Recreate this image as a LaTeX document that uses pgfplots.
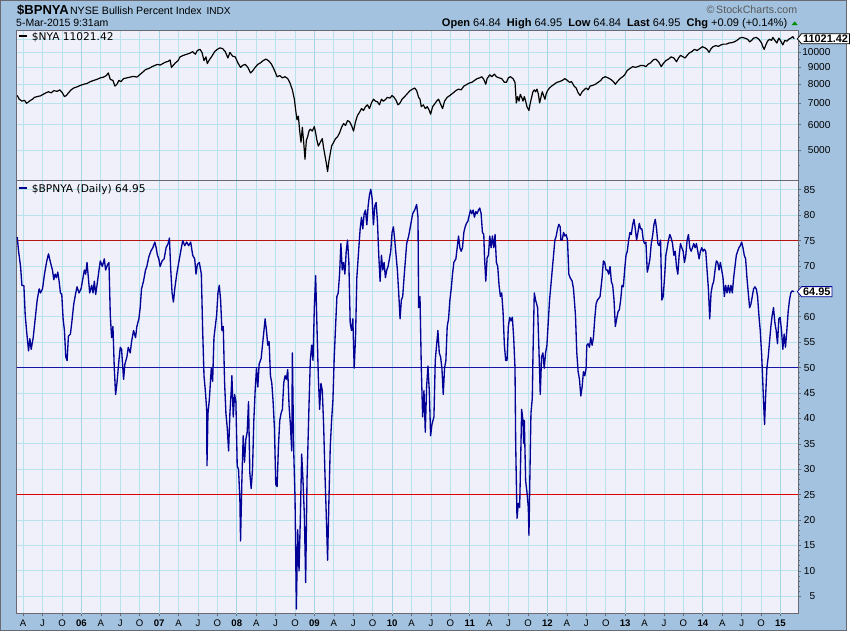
\documentclass[border=0pt]{standalone}
\usepackage{pgfplots}
\pgfplotsset{compat=1.18}
\usepackage{pgfplotstable}
\usepackage{fontspec}
\setmainfont{Liberation Sans}
\newfontfamily\verd{DejaVu Sans}
\usetikzlibrary{shapes.symbols}
\definecolor{bgblue}{RGB}{162,194,223}
\definecolor{plotbg}{RGB}{239,240,249}
\definecolor{gridc}{RGB}{184,226,236}
\definecolor{gridyear}{RGB}{165,214,230}
\definecolor{navyl}{RGB}{0,0,150}
\definecolor{line50}{RGB}{20,20,165}
\definecolor{redl}{RGB}{225,0,0}
\definecolor{darkred}{RGB}{185,20,20}
\definecolor{framec}{RGB}{105,105,115}

% gx = horizontal chart position (233.76 per year, 0 = 2005.131)
\pgfplotstableread{
gx v
10 75.7
14 72.9
20 69.9
24 66.2
30 66.1
34 60.3
38 57.3
44 53.3
48 55.7
52 53.6
58 55.9
64 59.6
70 63.3
76 65.5
80 64.7
86 65.5
92 68.4
98 70.7
104 72.4
110 70.7
116 69.2
120 67.3
124 68.4
128 67.7
132 68.8
136 67.0
140 64.7
144 64.4
148 59.6
152 57.3
156 52.1
160 51.4
164 56.2
170 56.6
174 58.8
180 62.5
186 64.7
190 65.9
196 64.7
202 65.5
208 67.7
212 69.2
216 68.4
220 70.7
224 67.7
228 64.7
234 66.2
238 64.7
242 67.0
246 64.4
250 66.2
256 69.2
260 71.0
266 69.9
272 71.4
276 69.2
282 70.3
286 70.7
290 60.3
294 55.9
298 58.1
302 49.9
306 44.7
310 46.9
316 51.4
320 54.0
324 53.6
330 47.7
334 50.7
340 52.1
344 54.0
350 52.9
354 55.1
360 57.3
366 55.9
370 58.1
376 59.6
380 61.8
384 65.5
390 67.0
396 69.2
400 69.9
406 71.8
412 72.9
418 73.6
424 74.7
428 73.6
432 72.1
436 71.4
440 69.9
446 71.0
452 71.4
458 73.6
464 74.4
468 75.5
472 69.2
476 64.7
480 62.9
484 65.5
490 68.4
496 70.7
502 72.9
508 75.0
514 74.0
520 74.7
526 74.0
532 74.7
538 72.1
544 71.4
548 68.4
552 70.3
558 70.7
564 68.4
568 57.3
572 48.4
576 45.5
580 41.8
581 30.7
584 41.0
588 43.6
594 49.9
598 47.3
602 55.9
606 58.1
610 60.3
614 64.7
618 66.2
622 63.3
626 57.3
630 58.1
634 47.0
638 41.0
642 38.1
646 33.6
650 41.0
654 45.5
656 48.4
660 40.3
664 44.7
668 43.3
672 30.7
676 29.9
680 24.0
682 15.9
686 27.7
690 36.6
694 31.4
698 35.9
702 37.3
706 43.3
710 29.2
714 26.2
718 29.9
722 39.6
726 45.5
730 49.9
734 46.2
738 50.7
744 51.8
748 54.4
752 57.0
756 59.6
760 57.3
764 54.4
768 55.1
772 48.4
776 47.0
780 43.3
784 38.1
788 27.0
792 26.6
796 34.4
800 39.6
804 41.0
808 41.8
812 47.0
816 48.4
820 47.7
824 49.6
828 42.5
832 38.8
836 33.6
838 52.9
842 33.6
846 24.0
850 2.5
854 18.1
858 10.0
862 20.4
866 33.0
870 27.7
874 21.0
878 7.7
882 27.7
888 42.5
892 51.4
896 54.4
900 51.4
904 61.8
908 68.1
912 58.1
916 48.4
920 41.8
924 46.9
928 45.5
932 38.8
936 29.2
940 21.0
944 12.1
948 24.0
952 34.4
956 39.6
960 43.6
964 52.1
968 58.1
972 64.0
976 64.7
980 68.4
984 74.4
988 69.2
992 70.7
996 68.4
1000 72.9
1004 75.1
1008 70.7
1012 58.8
1016 57.3
1020 59.6
1024 49.9
1028 55.9
1032 67.7
1038 73.6
1042 77.3
1046 79.6
1050 77.3
1054 80.3
1058 81.0
1062 78.1
1066 81.8
1070 84.0
1074 85.1
1078 83.3
1082 78.1
1086 81.8
1090 82.5
1094 78.8
1098 72.1
1102 67.0
1106 72.1
1110 69.2
1114 70.7
1118 67.7
1122 69.2
1126 69.9
1130 71.4
1134 72.9
1138 76.6
1142 77.7
1146 75.1
1150 72.1
1154 69.2
1158 64.7
1162 59.6
1166 63.3
1170 64.0
1174 67.7
1182 74.4
1188 75.9
1194 78.1
1200 80.3
1206 81.0
1212 82.1
1216 79.6
1218 61.8
1222 64.0
1226 49.9
1230 40.3
1234 45.5
1238 37.3
1242 46.2
1246 50.3
1250 45.5
1254 36.6
1258 38.8
1264 40.3
1268 51.4
1272 54.4
1276 57.3
1280 52.9
1284 52.1
1288 49.9
1292 44.7
1296 49.9
1300 51.4
1304 58.1
1308 59.6
1312 63.3
1316 65.5
1320 68.4
1324 70.7
1330 71.4
1334 73.6
1338 75.9
1342 73.6
1346 72.9
1350 73.6
1354 76.6
1358 77.7
1362 78.4
1366 78.8
1370 79.9
1374 81.0
1378 80.3
1382 81.0
1386 79.6
1390 80.7
1394 80.3
1398 81.0
1402 81.4
1406 80.3
1410 76.6
1414 76.2
1416 72.1
1420 67.0
1424 71.6
1428 72.1
1432 75.9
1436 73.6
1440 75.9
1444 73.6
1448 76.2
1452 70.7
1456 69.9
1460 66.2
1464 64.0
1468 64.7
1472 61.0
1476 54.4
1480 51.4
1484 51.4
1488 58.1
1492 59.9
1496 59.2
1500 59.9
1504 55.9
1508 49.9
1510 35.1
1514 20.3
1518 23.3
1522 22.5
1526 35.1
1528 41.8
1532 39.6
1534 35.1
1536 39.6
1540 27.7
1544 25.5
1548 22.5
1550 17.0
1554 33.6
1556 41.0
1560 44.0
1562 52.1
1566 64.7
1570 63.3
1576 61.8
1580 53.6
1584 44.7
1588 52.1
1592 52.9
1596 49.9
1600 52.9
1604 54.4
1608 58.8
1612 63.3
1616 66.2
1620 69.2
1624 72.1
1628 75.1
1632 75.9
1636 77.3
1640 78.2
1644 77.7
1646 75.1
1650 75.1
1654 76.6
1658 75.9
1662 76.2
1666 75.1
1670 68.4
1674 67.7
1680 67.0
1684 65.5
1690 60.3
1694 52.9
1698 49.2
1702 47.7
1706 44.4
1710 46.2
1714 49.2
1718 48.4
1722 49.9
1724 54.4
1728 54.7
1732 54.0
1736 55.9
1740 54.4
1744 55.9
1748 59.6
1752 62.5
1756 63.3
1760 63.6
1764 64.0
1770 67.7
1774 71.0
1778 70.7
1782 69.2
1786 69.2
1790 68.4
1794 69.9
1798 66.9
1802 66.2
1806 63.3
1810 58.1
1814 59.6
1818 61.0
1822 61.4
1826 63.3
1830 66.2
1834 65.9
1838 69.2
1842 72.1
1846 72.9
1850 75.1
1854 76.6
1858 76.2
1862 78.1
1866 79.2
1870 77.3
1874 75.1
1878 76.6
1882 78.4
1886 77.3
1890 77.3
1894 75.1
1898 74.4
1902 74.7
1906 68.8
1910 69.9
1914 71.4
1918 74.4
1922 75.9
1926 78.1
1930 79.2
1934 77.3
1938 74.4
1942 74.0
1946 75.1
1950 63.3
1954 64.0
1958 67.7
1962 72.1
1966 73.6
1970 75.1
1974 76.2
1978 75.5
1982 74.4
1986 72.1
1990 72.9
1994 69.9
1998 68.4
2002 72.1
2006 74.4
2010 73.6
2014 72.9
2018 70.7
2022 72.1
2026 75.1
2030 76.2
2034 73.6
2038 72.9
2042 73.6
2046 74.4
2050 73.6
2054 74.4
2058 72.9
2062 71.4
2066 72.9
2070 73.6
2074 72.9
2078 73.3
2082 72.9
2086 69.2
2090 65.5
2094 59.6
2098 64.7
2102 66.2
2106 67.0
2110 69.2
2114 71.0
2118 70.7
2122 69.2
2126 70.7
2130 69.2
2134 67.7
2138 64.0
2142 66.2
2146 64.7
2150 66.2
2154 64.7
2158 66.2
2162 64.7
2166 67.7
2170 69.9
2174 72.1
2178 72.9
2182 73.6
2186 74.0
2190 74.7
2194 73.6
2198 72.1
2202 71.4
2206 67.7
2210 64.7
2214 61.8
2218 62.5
2222 64.0
2226 65.5
2230 65.9
2234 65.5
2238 64.0
2242 60.3
2246 57.3
2250 52.9
2252 49.9
2256 43.3
2259 38.8
2262 44.0
2266 49.9
2270 52.1
2274 55.1
2278 58.1
2282 60.3
2286 61.8
2290 58.9
2294 57.3
2298 54.7
2302 59.6
2306 59.9
2310 57.3
2314 53.6
2318 56.6
2322 54.0
2326 57.3
2330 61.0
2334 63.3
2338 64.7
2342 65.1
2348 64.95
}\bpnya

\pgfplotstableread{
gx v
10 7379
16 7186
24 7091
32 7129
38 6981
44 7054
50 7129
56 7186
62 7282
70 7321
80 7360
88 7438
96 7517
104 7577
112 7517
120 7638
130 7598
138 7678
146 7517
152 7321
158 7379
164 7517
172 7678
180 7781
190 7843
200 7927
210 7991
220 8033
230 8140
240 8205
250 8270
260 8358
270 8403
278 8493
284 8651
290 8270
298 8205
304 7885
310 7991
316 8205
322 8140
330 8314
340 8358
350 8403
360 8448
370 8403
378 8538
386 8673
396 8860
406 8931
416 9051
424 9124
432 9196
440 9148
448 9245
456 9342
464 9391
470 9493
474 9003
478 9099
486 9294
494 9443
500 9697
510 9799
520 9878
530 9957
538 10063
546 9878
552 10143
560 10225
566 10010
572 9443
578 9697
582 9245
588 9493
596 9748
604 10063
612 10225
620 10334
628 10279
636 10063
644 9620
650 10010
658 9748
666 9697
674 9294
682 9003
688 9124
696 9196
704 9003
712 8651
718 8767
726 9003
734 9196
742 9294
750 9443
758 9544
766 9443
774 9245
780 9003
786 8721
792 8426
800 8493
808 8358
816 8426
824 8314
830 8097
838 7678
844 7186
848 6636
852 6211
856 6377
860 5736
864 5297
868 5890
872 5297
876 4701
880 5368
884 5512
888 5736
892 5812
898 5736
904 5921
908 5661
912 5368
916 5158
922 5297
928 5439
932 5090
936 4827
940 4578
944 4307
948 4639
952 4892
956 5158
962 5297
968 5439
974 5512
980 5661
986 5890
992 6048
998 5969
1004 6178
1010 6129
1016 5969
1022 5736
1028 6129
1034 6411
1040 6549
1046 6725
1052 6636
1058 6815
1064 6906
1070 6725
1076 6998
1082 7186
1088 7091
1094 7054
1100 6906
1106 7186
1112 7091
1118 7167
1124 7282
1132 7243
1138 7379
1144 7282
1150 7129
1156 6906
1162 6998
1168 7186
1176 7321
1184 7477
1192 7638
1200 7719
1206 7781
1212 7638
1218 7282
1222 7186
1226 6815
1232 6906
1238 6725
1244 6815
1250 6636
1254 6463
1260 6815
1266 6943
1272 7091
1278 7186
1284 6943
1290 6725
1296 7091
1304 7282
1312 7379
1322 7517
1330 7638
1338 7719
1346 7678
1354 7885
1362 7968
1370 8054
1378 8097
1386 8205
1394 8314
1402 8358
1408 8426
1414 8270
1420 7991
1424 8314
1432 8538
1438 8426
1446 8583
1452 8426
1460 8358
1468 8314
1476 8097
1482 8097
1488 8358
1494 8426
1502 8314
1508 8097
1512 6998
1516 7321
1520 7091
1524 7438
1528 7282
1532 7091
1536 7321
1540 7091
1544 6815
1550 6636
1554 6998
1558 7282
1562 7577
1566 7678
1570 7577
1574 7719
1578 7477
1582 6998
1586 7282
1590 7577
1594 7379
1598 7186
1602 7477
1606 7638
1612 7781
1618 7885
1626 7991
1634 8097
1642 8140
1650 8205
1658 8314
1666 8205
1672 8097
1678 8140
1686 7885
1692 7781
1698 7517
1704 7379
1710 7577
1716 7678
1722 7781
1728 7678
1734 7885
1742 7927
1750 7991
1758 8097
1766 8205
1772 8358
1780 8426
1788 8358
1796 8270
1804 8140
1810 7991
1816 8140
1824 8314
1832 8426
1838 8538
1846 8814
1854 8931
1862 9051
1870 9003
1878 9051
1886 9124
1894 9124
1902 9051
1908 9196
1916 9294
1924 9493
1932 9544
1940 9367
1948 9051
1954 9245
1962 9443
1970 9544
1978 9697
1986 9620
1994 9367
2000 9620
2006 9799
2014 9697
2020 9620
2026 9799
2032 9957
2040 10063
2048 10225
2056 10143
2064 10279
2072 10417
2080 10334
2086 10225
2092 10010
2098 10279
2104 10417
2112 10500
2120 10445
2128 10555
2136 10611
2144 10611
2152 10696
2160 10725
2168 10782
2176 10896
2184 11071
2192 11130
2200 11071
2208 10984
2214 10782
2220 10896
2226 11071
2234 11130
2242 10984
2250 10696
2254 10417
2258 10225
2262 10500
2268 10839
2274 10984
2280 10896
2284 11130
2290 10896
2296 10696
2302 11071
2308 10839
2314 10555
2320 10896
2326 10839
2332 10984
2338 11071
2344 11190
2348 11021.42
}\nya

\tikzset{
  valbox/.style={shape=signal, signal to=west, signal pointer angle=100, fill=white, line width=0.6pt,
    inner xsep=1.2pt, inner ysep=0.9pt, font=\bfseries\fontsize{8.2}{9}\selectfont, anchor=west},
}
\pgfplotsset{
  stock/.style={
    scale only axis, width=588pt,
    xmin=2005.166, xmax=2015.227,
    axis background/.style={fill=plotbg},
    axis line style={framec, line width=0.9pt},
    clip mode=individual,
    xtick={2005.25,2005.5,2005.75,2006,2006.25,2006.5,2006.75,2007,2007.25,2007.5,2007.75,2008,2008.25,2008.5,2008.75,2009,2009.25,2009.5,2009.75,2010,2010.25,2010.5,2010.75,2011,2011.25,2011.5,2011.75,2012,2012.25,2012.5,2012.75,2013,2013.25,2013.5,2013.75,2014,2014.25,2014.5,2014.75,2015},
    xmajorgrids, ymajorgrids,
    grid style={gridc, line width=0.6pt},
    extra x ticks={2006,2007,2008,2009,2010,2011,2012,2013,2014,2015},
    extra x tick labels={},
    extra x tick style={grid style={gridyear, line width=0.7pt}, major tick length=0pt},
    tick align=outside,
    tick style={framec, line width=0.5pt},
    major tick length=2pt, minor tick length=1.2pt,
    xtick pos=bottom, ytick pos=right,
    yticklabel pos=right,
    /pgf/number format/assume math mode=true,
    ticklabel style={font=\fontsize{7.6}{9}\selectfont},
  },
}

\begin{document}
\begin{tikzpicture}
\begin{scope}[x=0.75pt,y=0.75pt]
\fill[bgblue] (0,0) rectangle (850,633);
\draw[framec, line width=0.75pt] (0.5,0.5) rectangle (849.5,632.5);
\end{scope}

% ---------- lower panel: $BPNYA ----------
\begin{axis}[stock,
  at={(12.525pt,12.975pt)}, anchor=south west,
  height=326.25pt,
  ymin=1.57, ymax=86.9,
  ytick={5,10,...,85},
  yticklabels={5,10,15,20,25,30,35,40,45,50,55,60,{},70,75,80,85},
  minor y tick num=4,
  xticklabels={A,J,O,\textbf{06},A,J,O,\textbf{07},A,J,O,\textbf{08},A,J,O,\textbf{09},A,J,O,\textbf{10},A,J,O,\textbf{11},A,J,O,\textbf{12},A,J,O,\textbf{13},A,J,O,\textbf{14},A,J,O,\textbf{15}},
  xticklabel style={anchor=north, inner sep=0pt, yshift=-2.4pt, font=\fontsize{7.2}{8}\selectfont},
  yticklabel style={anchor=west, inner sep=0pt, xshift=0.6pt, text width=10pt, align=right},
]
\addplot[darkred, line width=0.75pt] coordinates {(2005.0,75) (2015.4,75)};
\addplot[line50, line width=0.8pt] coordinates {(2005.0,50) (2015.4,50)};
\addplot[redl, line width=0.9pt] coordinates {(2005.0,25) (2015.4,25)};
\addplot[navyl, line width=1.0pt, line join=round] table[x expr=2005.131+\thisrow{gx}/233.76, y=v] {\bpnya};
\node[valbox, draw=navyl] at (axis cs:2015.21,64.95) {64.95};
\end{axis}

% ---------- upper panel: $NYA ----------
\begin{axis}[stock,
  at={(12.525pt,339.225pt)}, anchor=south west,
  height=112.275pt,
  ymode=log,
  ymin=4054, ymax=11654,
  ytick={5000,6000,7000,8000,9000,10000,11000},
  yticklabels={5000,6000,7000,8000,9000,10000,{}},
  minor ytick={4500,5500,6500,7500,8500,9500,10500},
  xticklabels={},
  major x tick style={draw=none},
  yticklabel style={anchor=west, inner sep=0pt, xshift=0.6pt, text width=21.5pt, align=right},
]
\addplot[black, line width=0.9pt, line join=round] table[x expr=2005.131+\thisrow{gx}/233.76, y=v] {\nya};
\node[valbox, draw=black] at (axis cs:2015.21,11021.42) {11021.42};
\end{axis}

\begin{scope}[x=0.75pt,y=0.75pt]
% header
\node[anchor=base west, inner sep=0pt, font=\bfseries\fontsize{9.8}{11}\selectfont] at (17,618) {\$BPNYA};
\node[anchor=base west, inner sep=0pt, font=\fontsize{8}{10}\selectfont] at (70,618) {NYSE Bullish Percent Index};
\node[anchor=base west, inner sep=0pt, font=\fontsize{7.6}{10}\selectfont] at (207,618) {INDX};
\node[anchor=base west, inner sep=0pt, font=\fontsize{7.9}{10}\selectfont] at (16,606.3) {5-Mar-2015 9:31am};
\node[anchor=base east, inner sep=0pt, font=\fontsize{8}{10}\selectfont, text=black!65] at (800,619) {\textcopyright\,StockCharts.com};
\node[anchor=base east, inner sep=0pt, font=\fontsize{8.3}{10}\selectfont] at (790,606.3)
  {\textbf{Open} 64.84\ \ \textbf{High} 64.95\ \ \textbf{Low} 64.84\ \ \textbf{Last} 64.95\ \ \textbf{Chg} +0.09 (+0.14\%)};
\fill[green!55!black] (794,607.7) -- (800.5,607.7) -- (797.25,611.5) -- cycle;
% panel legends
\draw[black, line width=1.6pt] (19,596.5) -- (27,596.5);
\node[anchor=base west, inner sep=0pt, font=\verd\fontsize{8}{10}\selectfont] at (31.7,592.3) {\$NYA 11021.42};
\draw[navyl, line width=1.6pt] (19,444.3) -- (27,444.3);
\node[anchor=base west, inner sep=0pt, font=\verd\fontsize{8}{10}\selectfont] at (31.7,440.3) {\$BPNYA (Daily) 64.95};
\end{scope}
\end{tikzpicture}
\end{document}
